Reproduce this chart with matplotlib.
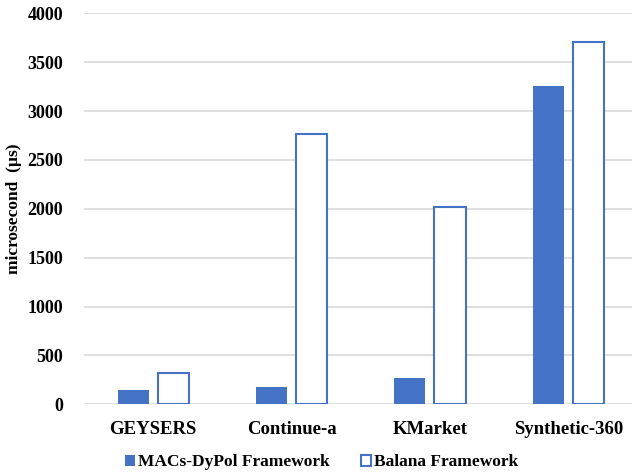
import numpy as np
import matplotlib.pyplot as plt

categories = ["GEYSERS", "Continue-a", "KMarket", "Synthetic-360"]
macs_dypol = [150, 175, 270, 3260]
balana = [320, 2770, 2020, 3710]
yticks = [0, 500, 1000, 1500, 2000, 2500, 3000, 3500, 4000]

blue = "#4472C4"
plt.rcParams["font.family"] = ["Liberation Serif", "DejaVu Serif"]
plt.rcParams["font.weight"] = "bold"

fig = plt.figure(figsize=(6.32, 4.74), dpi=100)
ax = fig.add_axes([84 / 632, 1 - 404.3 / 474, 548 / 632, 391 / 474])

x = np.arange(len(categories))
w = 0.225
ax.bar(x - 0.145, macs_dypol, w, color=blue, label="MACs-DyPol Framework", zorder=3)
ax.bar(x + 0.145, balana, w, facecolor="white", edgecolor=blue, linewidth=1.5,
       label="Balana Framework", zorder=3)

ax.set_xlim(-0.5, 3.46)
ax.set_ylim(0, 4000)
ax.set_yticks(yticks)
ax.yaxis.grid(True, color="#d9d9d9", linewidth=1.2, zorder=0)
for s in ax.spines.values():
    s.set_visible(False)
ax.tick_params(axis="y", length=0, pad=15, labelsize=13)
ax.tick_params(axis="x", length=0, pad=12, labelsize=13.5)
ax.set_xticks(x)
ax.set_xticklabels(categories, fontweight="bold")
for lab in ax.get_yticklabels():
    lab.set_fontweight("bold")
ax.set_ylabel("microsecond  (µs)", fontsize=12.5, fontweight="bold", labelpad=4)

ax.legend(loc="center", bbox_to_anchor=(0.433, -0.148), ncol=2, frameon=False,
          handlelength=0.6, handleheight=0.6, handletextpad=0.15, columnspacing=1.8,
          prop={"size": 12.5, "weight": "bold"})

fig.savefig("out.png", dpi=100)
